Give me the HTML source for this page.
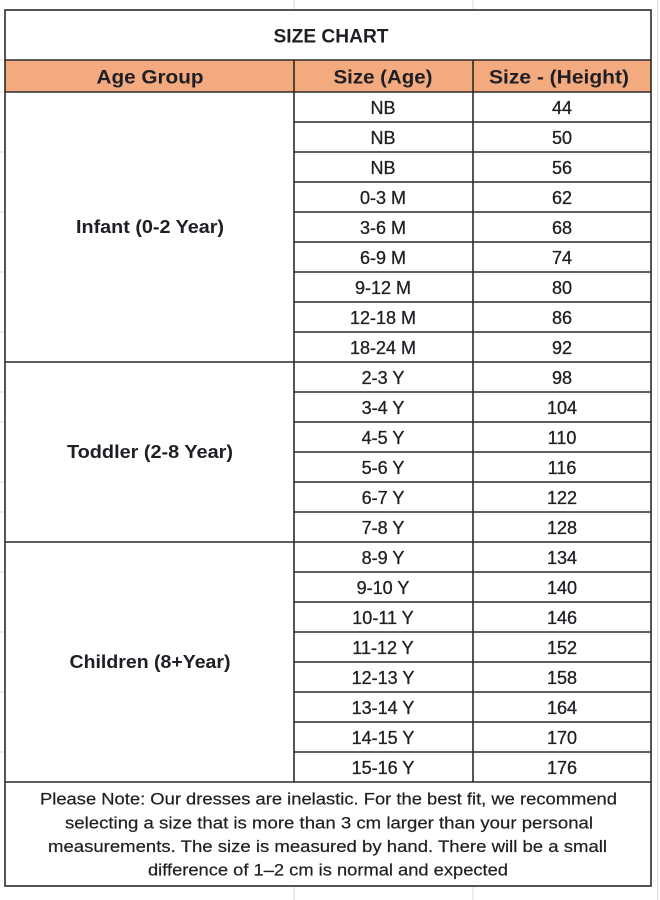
<!DOCTYPE html>
<html><head><meta charset="utf-8"><style>
html,body{margin:0;padding:0;background:#fff;}
svg{display:block;}
text{font-family:"Liberation Sans",sans-serif;fill:#1e1e24;}
.b{font-weight:bold;}
</style></head><body>
<svg width="660" height="900" viewBox="0 0 660 900" xmlns="http://www.w3.org/2000/svg">
<rect width="660" height="900" fill="#fff"/>
<g stroke="#d9d9d9" stroke-width="1">
<line x1="294" y1="0" x2="294" y2="9"/><line x1="473" y1="0" x2="473" y2="9"/>
<line x1="294" y1="887" x2="294" y2="900"/><line x1="473" y1="887" x2="473" y2="900"/>
<line x1="657.5" y1="0" x2="657.5" y2="900"/>
<line x1="0" y1="60" x2="5" y2="60"/><line x1="0" y1="92" x2="5" y2="92"/>
<line x1="0" y1="152" x2="5" y2="152"/><line x1="0" y1="212" x2="5" y2="212"/><line x1="0" y1="272" x2="5" y2="272"/><line x1="0" y1="332" x2="5" y2="332"/>
<line x1="0" y1="392" x2="5" y2="392"/><line x1="0" y1="422" x2="5" y2="422"/><line x1="0" y1="482" x2="5" y2="482"/><line x1="0" y1="512" x2="5" y2="512"/>
<line x1="0" y1="572" x2="5" y2="572"/><line x1="0" y1="632" x2="5" y2="632"/><line x1="0" y1="692" x2="5" y2="692"/><line x1="0" y1="752" x2="5" y2="752"/>
</g>
<rect x="5" y="60" width="646" height="32" fill="#f3aa7e"/>
<g stroke="#2b2b2b" stroke-width="1.6" fill="none">
<rect x="5" y="10" width="646" height="876"/>
<line x1="5" y1="60" x2="651" y2="60"/>
<line x1="5" y1="92" x2="651" y2="92"/>
<line x1="294" y1="60" x2="294" y2="782"/>
<line x1="473" y1="60" x2="473" y2="782"/>
<line x1="5" y1="362" x2="651" y2="362"/>
<line x1="5" y1="542" x2="651" y2="542"/>
<line x1="5" y1="782" x2="651" y2="782"/>
</g>
<g stroke="#2b2b2b" stroke-width="1.4">
<line x1="294" y1="122" x2="651" y2="122"/><line x1="294" y1="152" x2="651" y2="152"/><line x1="294" y1="182" x2="651" y2="182"/>
<line x1="294" y1="212" x2="651" y2="212"/><line x1="294" y1="242" x2="651" y2="242"/><line x1="294" y1="272" x2="651" y2="272"/>
<line x1="294" y1="302" x2="651" y2="302"/><line x1="294" y1="332" x2="651" y2="332"/>
<line x1="294" y1="392" x2="651" y2="392"/><line x1="294" y1="422" x2="651" y2="422"/><line x1="294" y1="452" x2="651" y2="452"/>
<line x1="294" y1="482" x2="651" y2="482"/><line x1="294" y1="512" x2="651" y2="512"/>
<line x1="294" y1="572" x2="651" y2="572"/><line x1="294" y1="602" x2="651" y2="602"/><line x1="294" y1="632" x2="651" y2="632"/>
<line x1="294" y1="662" x2="651" y2="662"/><line x1="294" y1="692" x2="651" y2="692"/><line x1="294" y1="722" x2="651" y2="722"/><line x1="294" y1="752" x2="651" y2="752"/>
</g>
<text class="b" x="331" y="42.5" font-size="19.5" text-anchor="middle" textLength="115" lengthAdjust="spacingAndGlyphs">SIZE CHART</text>
<text class="b" x="150" y="83.5" font-size="19.5" text-anchor="middle" textLength="107" lengthAdjust="spacingAndGlyphs">Age Group</text>
<text class="b" x="383" y="83.5" font-size="19.5" text-anchor="middle" textLength="99" lengthAdjust="spacingAndGlyphs">Size (Age)</text>
<text class="b" x="559" y="83.5" font-size="19.5" text-anchor="middle" textLength="140" lengthAdjust="spacingAndGlyphs">Size - (Height)</text>
<text class="b" x="150" y="233" font-size="18.5" text-anchor="middle" textLength="148" lengthAdjust="spacingAndGlyphs">Infant (0-2 Year)</text>
<text class="b" x="150" y="458" font-size="18.5" text-anchor="middle" textLength="166" lengthAdjust="spacingAndGlyphs">Toddler (2-8 Year)</text>
<text class="b" x="150" y="668" font-size="18.5" text-anchor="middle" textLength="161" lengthAdjust="spacingAndGlyphs">Children (8+Year)</text>
<g font-size="18" text-anchor="middle" stroke="#1e1e24" stroke-width="0.3">
<text x="383" y="114">NB</text><text x="383" y="144">NB</text><text x="383" y="174">NB</text>
<text x="383" y="204">0-3 M</text><text x="383" y="234">3-6 M</text><text x="383" y="264">6-9 M</text>
<text x="383" y="294">9-12 M</text><text x="383" y="324">12-18 M</text><text x="383" y="354">18-24 M</text>
<text x="383" y="384">2-3 Y</text><text x="383" y="414">3-4 Y</text><text x="383" y="444">4-5 Y</text>
<text x="383" y="474">5-6 Y</text><text x="383" y="504">6-7 Y</text><text x="383" y="534">7-8 Y</text>
<text x="383" y="564">8-9 Y</text><text x="383" y="594">9-10 Y</text><text x="383" y="624">10-11 Y</text>
<text x="383" y="654">11-12 Y</text><text x="383" y="684">12-13 Y</text><text x="383" y="714">13-14 Y</text>
<text x="383" y="744">14-15 Y</text><text x="383" y="774">15-16 Y</text>
</g>
<g font-size="18" text-anchor="middle" stroke="#1e1e24" stroke-width="0.3">
<text x="562" y="114">44</text><text x="562" y="144">50</text><text x="562" y="174">56</text>
<text x="562" y="204">62</text><text x="562" y="234">68</text><text x="562" y="264">74</text>
<text x="562" y="294">80</text><text x="562" y="324">86</text><text x="562" y="354">92</text>
<text x="562" y="384">98</text><text x="562" y="414">104</text><text x="562" y="444">110</text>
<text x="562" y="474">116</text><text x="562" y="504">122</text><text x="562" y="534">128</text>
<text x="562" y="564">134</text><text x="562" y="594">140</text><text x="562" y="624">146</text>
<text x="562" y="654">152</text><text x="562" y="684">158</text><text x="562" y="714">164</text>
<text x="562" y="744">170</text><text x="562" y="774">176</text>
</g>
<g font-size="16.5" fill="#222" stroke="#222" stroke-width="0.2">
<text x="40" y="804.5" textLength="577" lengthAdjust="spacingAndGlyphs">Please Note: Our dresses are inelastic. For the best fit, we recommend</text>
<text x="65" y="828.5" textLength="528" lengthAdjust="spacingAndGlyphs">selecting a size that is more than 3 cm larger than your personal</text>
<text x="48" y="852" textLength="559" lengthAdjust="spacingAndGlyphs">measurements. The size is measured by hand. There will be a small</text>
<text x="148" y="875.5" textLength="360" lengthAdjust="spacingAndGlyphs">difference of 1–2 cm is normal and expected</text>
</g>
</svg>
</body></html>
